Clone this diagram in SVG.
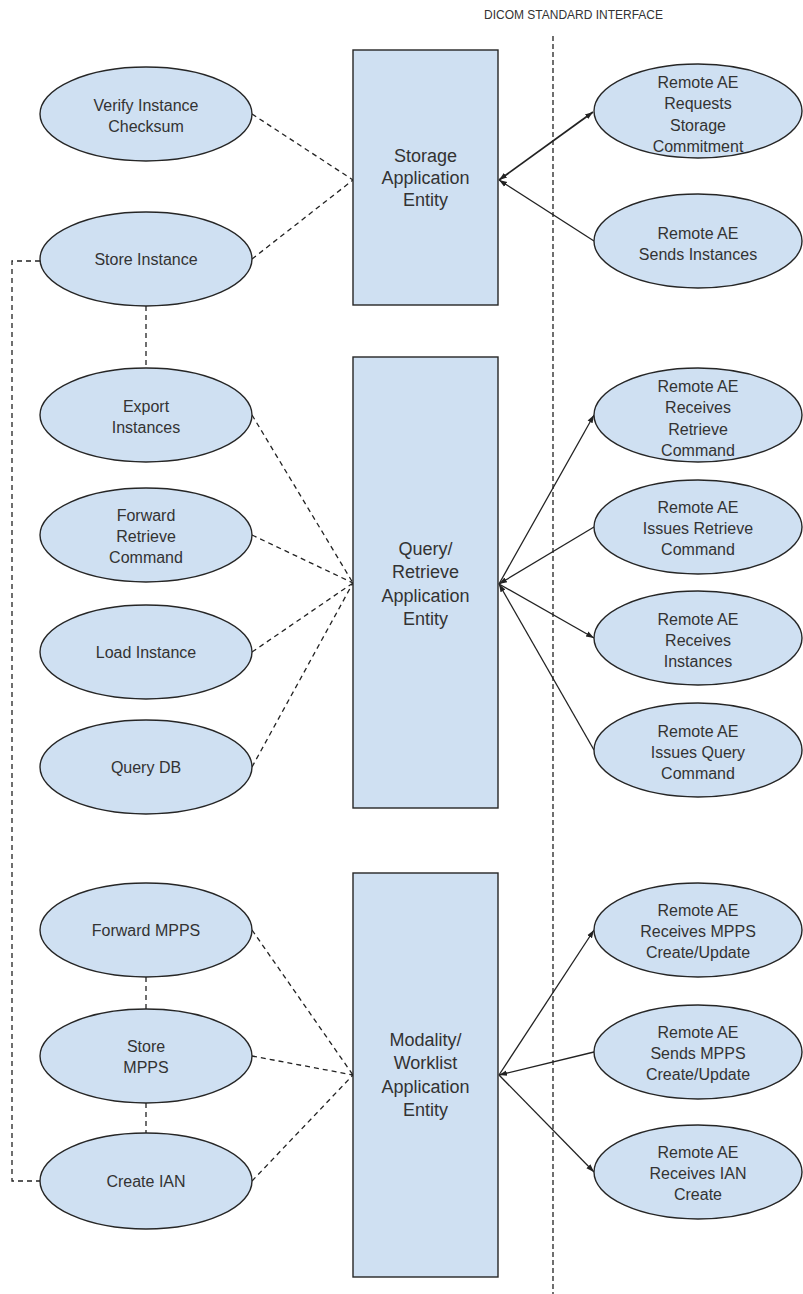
<svg xmlns="http://www.w3.org/2000/svg" width="803" height="1294" viewBox="0 0 803 1294">
<defs>
<marker id="ah" viewBox="0 0 10 10" refX="10" refY="5" markerWidth="8" markerHeight="8" markerUnits="userSpaceOnUse" orient="auto-start-reverse">
<path d="M0,1.5 L10,5 L0,8.5 Z" fill="#222"/>
</marker>
<style>
.el{fill:#cfe0f2;stroke:#262626;stroke-width:1.4}
.bx{fill:#cfe0f2;stroke:#262626;stroke-width:1.4}
.t{font-family:"Liberation Sans",Arial,sans-serif;font-size:16px;fill:#333;text-anchor:middle}
.tb{font-family:"Liberation Sans",Arial,sans-serif;font-size:18px;fill:#333;text-anchor:middle}
.dash{fill:none;stroke:#222;stroke-width:1.3;stroke-dasharray:5,4}
.arr{fill:none;stroke:#222;stroke-width:1.3;marker-end:url(#ah)}
.hdr{font-family:"Liberation Sans",Arial,sans-serif;font-size:12px;fill:#333}
</style>
</defs>
<rect width="803" height="1294" fill="#fff"/>

<text class="hdr" x="484" y="19" textLength="179" lengthAdjust="spacingAndGlyphs">DICOM STANDARD INTERFACE</text>
<line x1="553" y1="36" x2="553" y2="1294" stroke="#222" stroke-width="1.3" stroke-dasharray="5,3"/>

<g id="connectors">
<!-- storage -->
<path class="dash" d="M252,114 L353,180 M252,259 L353,180"/>
<path class="arr" d="M499,180 L593,112" style="marker-start:url(#ah);stroke-width:1.8"/>
<path class="arr" d="M594,241 L499,180"/>
<!-- store instance links -->
<path class="dash" d="M40,261 L12,261 L12,1181 L40,1181"/>
<path class="dash" d="M146,306 L146,368"/>
<!-- query -->
<path class="dash" d="M252,415 L353,583 M252,535 L353,583 M252,652 L353,583 M252,767 L353,583"/>
<path class="arr" d="M499,584 L594,415"/>
<path class="arr" d="M594,527 L499,584"/>
<path class="arr" d="M499,584 L594,638"/>
<path class="arr" d="M594,750 L499,584"/>
<!-- modality -->
<path class="dash" d="M146,977 L146,1009 M146,1103 L146,1133"/>
<path class="dash" d="M252,930 L353,1075 M252,1056 L353,1075 M252,1181 L353,1075"/>
<path class="arr" d="M499,1075 L594,930"/>
<path class="arr" d="M594,1052 L499,1075"/>
<path class="arr" d="M499,1075 L594,1172"/>
</g>

<g id="storage-ae"><rect class="bx" x="353" y="50" width="145" height="255"/>
<text class="tb" x="425.5" y="162"><tspan x="425.5">Storage</tspan><tspan x="425.5" y="184">Application</tspan><tspan x="425.5" y="206">Entity</tspan></text></g>

<g id="query-ae"><rect class="bx" x="353" y="357" width="145" height="451"/>
<text class="tb" x="425.5" y="555"><tspan x="425.5">Query/</tspan><tspan x="425.5" y="578">Retrieve</tspan><tspan x="425.5" y="602">Application</tspan><tspan x="425.5" y="625">Entity</tspan></text></g>

<g id="modality-ae"><rect class="bx" x="353" y="873" width="145" height="404"/>
<text class="tb" x="425.5" y="1046"><tspan x="425.5">Modality/</tspan><tspan x="425.5" y="1069">Worklist</tspan><tspan x="425.5" y="1093">Application</tspan><tspan x="425.5" y="1116">Entity</tspan></text></g>

<g id="verify-checksum"><ellipse class="el" cx="146" cy="114" rx="106" ry="47"/>
<text class="t" x="146" y="111"><tspan x="146">Verify Instance</tspan><tspan x="146" y="132">Checksum</tspan></text></g>

<g id="store-instance"><ellipse class="el" cx="146" cy="259" rx="106" ry="47"/>
<text class="t" x="146" y="265">Store Instance</text></g>

<g id="export-instances"><ellipse class="el" cx="146" cy="415" rx="106" ry="47"/>
<text class="t" x="146" y="412"><tspan x="146">Export</tspan><tspan x="146" y="433">Instances</tspan></text></g>

<g id="forward-retrieve"><ellipse class="el" cx="146" cy="535" rx="106" ry="47"/>
<text class="t" x="146" y="521"><tspan x="146">Forward</tspan><tspan x="146" y="542">Retrieve</tspan><tspan x="146" y="563">Command</tspan></text></g>

<g id="load-instance"><ellipse class="el" cx="146" cy="652" rx="106" ry="47"/>
<text class="t" x="146" y="658">Load Instance</text></g>

<g id="query-db"><ellipse class="el" cx="146" cy="767" rx="106" ry="47"/>
<text class="t" x="146" y="773">Query DB</text></g>

<g id="forward-mpps"><ellipse class="el" cx="146" cy="930" rx="106" ry="47"/>
<text class="t" x="146" y="936">Forward MPPS</text></g>

<g id="store-mpps"><ellipse class="el" cx="146" cy="1056" rx="106" ry="47"/>
<text class="t" x="146" y="1052"><tspan x="146">Store</tspan><tspan x="146" y="1073">MPPS</tspan></text></g>

<g id="create-ian"><ellipse class="el" cx="146" cy="1181" rx="106" ry="48"/>
<text class="t" x="146" y="1187">Create IAN</text></g>

<g id="remote-requests-commitment"><ellipse class="el" cx="698" cy="111" rx="104" ry="47"/>
<text class="t" x="698" y="88"><tspan x="698">Remote AE</tspan><tspan x="698" y="109">Requests</tspan><tspan x="698" y="131">Storage</tspan><tspan x="698" y="152">Commitment</tspan></text></g>

<g id="remote-sends-instances"><ellipse class="el" cx="698" cy="241" rx="104" ry="47"/>
<text class="t" x="698" y="239"><tspan x="698">Remote AE</tspan><tspan x="698" y="260">Sends Instances</tspan></text></g>

<g id="remote-receives-retrieve"><ellipse class="el" cx="698" cy="415" rx="104" ry="47"/>
<text class="t" x="698" y="392"><tspan x="698">Remote AE</tspan><tspan x="698" y="413">Receives</tspan><tspan x="698" y="435">Retrieve</tspan><tspan x="698" y="456">Command</tspan></text></g>

<g id="remote-issues-retrieve"><ellipse class="el" cx="698" cy="527" rx="104" ry="47"/>
<text class="t" x="698" y="513"><tspan x="698">Remote AE</tspan><tspan x="698" y="534">Issues Retrieve</tspan><tspan x="698" y="555">Command</tspan></text></g>

<g id="remote-receives-instances"><ellipse class="el" cx="698" cy="638" rx="104" ry="47"/>
<text class="t" x="698" y="625"><tspan x="698">Remote AE</tspan><tspan x="698" y="646">Receives</tspan><tspan x="698" y="667">Instances</tspan></text></g>

<g id="remote-issues-query"><ellipse class="el" cx="698" cy="750" rx="104" ry="47"/>
<text class="t" x="698" y="737"><tspan x="698">Remote AE</tspan><tspan x="698" y="758">Issues Query</tspan><tspan x="698" y="779">Command</tspan></text></g>

<g id="remote-receives-mpps"><ellipse class="el" cx="698" cy="930" rx="104" ry="47"/>
<text class="t" x="698" y="916"><tspan x="698">Remote AE</tspan><tspan x="698" y="937">Receives MPPS</tspan><tspan x="698" y="958">Create/Update</tspan></text></g>

<g id="remote-sends-mpps"><ellipse class="el" cx="698" cy="1052" rx="104" ry="47"/>
<text class="t" x="698" y="1038"><tspan x="698">Remote AE</tspan><tspan x="698" y="1059">Sends MPPS</tspan><tspan x="698" y="1080">Create/Update</tspan></text></g>

<g id="remote-receives-ian"><ellipse class="el" cx="698" cy="1172" rx="104" ry="47"/>
<text class="t" x="698" y="1158"><tspan x="698">Remote AE</tspan><tspan x="698" y="1179">Receives IAN</tspan><tspan x="698" y="1200">Create</tspan></text></g>
</svg>
